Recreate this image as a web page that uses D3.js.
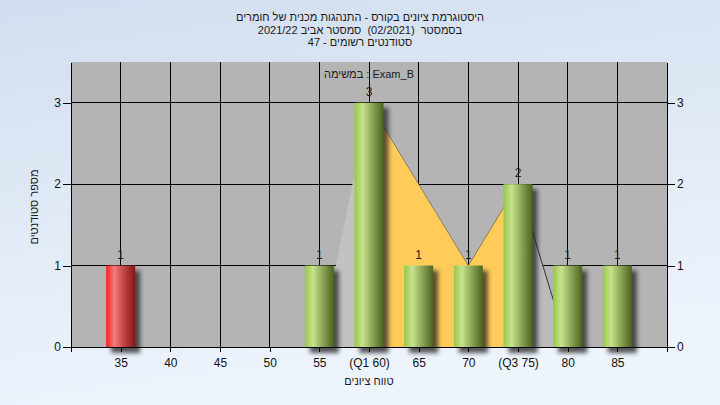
<!DOCTYPE html>
<html><head><meta charset="utf-8">
<script src="https://cdn.jsdelivr.net/npm/d3@7"></script>
<style>
html,body{margin:0;padding:0;}
svg{display:block;font-family:"Liberation Sans",Arial,sans-serif;}
.pre{white-space:pre;}
</style></head>
<body>
<svg id="chart" width="720" height="405"></svg>
<script>
// ---- data ----
const categories = [35, 40, 45, 50, 55, 60, 65, 70, 75, 80, 85];
const tickLabels = ["35", "40", "45", "50", "55", "(Q1 60)", "65", "70", "(Q3 75)", "80", "85"];
const counts = [1, 0, 0, 0, 1, 3, 1, 1, 2, 1, 1];
const barColors = ["red", "green", "green", "green", "green", "green", "green", "green", "green", "green", "green"];
const yTicks = [0, 1, 2, 3];
// frequency polygon drawn behind the bars
const polyX = [55, 60, 65, 70, 75, 80];
const polyY = [0, 3, 2, 1, 2, 0];
const q1 = 60, q3 = 75;
const titleLines = ["היסטוגרמת ציונים בקורס - התנהגות מכנית של חומרים", "בסמסטר  (02/2021)  סמסטר אביב 2021/22", "סטודנטים רשומים - 47"];
const examLabel = "במשימה : Exam_B";
const xTitle = "טווח ציונים";
const yTitle = "מספר סטודנטים";

const svg = d3.select("#chart");
const W = 720, H = 405;
const M = {left: 71, right: 667, top: 62, bottom: 347};
const hebSize = 11;

const defs = svg.append("defs");
const bgGrad = defs.append("linearGradient").attr("id", "bg").attr("x1", 0).attr("y1", 0).attr("x2", 0.25).attr("y2", 1);
bgGrad.append("stop").attr("offset", "0%").attr("stop-color", "#d2deef");
bgGrad.append("stop").attr("offset", "100%").attr("stop-color", "#eef4fc");

const gradDefs = {
  green: [["0%", "#98c84a"], ["28%", "#c8e28e"], ["60%", "#8fa858"], ["100%", "#4a6420"]],
  red: [["0%", "#ff1c1c"], ["28%", "#f27c7c"], ["60%", "#c24646"], ["100%", "#881414"]]
};
Object.entries(gradDefs).forEach(([k, stops]) => {
  const g = defs.append("linearGradient").attr("id", "g-" + k).attr("x1", 0).attr("y1", 0).attr("x2", 1).attr("y2", 0);
  stops.forEach(s => g.append("stop").attr("offset", s[0]).attr("stop-color", s[1]));
});
const f = defs.append("filter").attr("id", "shadow").attr("x", "-50%").attr("y", "-50%").attr("width", "200%").attr("height", "200%");
f.append("feGaussianBlur").attr("stdDeviation", 2.2);

svg.append("rect").attr("width", W).attr("height", H).attr("fill", "url(#bg)");

const x = d3.scaleLinear().domain([30, 90]).range([M.left, M.right]);
const y = d3.scaleLinear().domain([0, 3.5]).range([M.bottom, M.top]);

// plot background
svg.append("rect").attr("x", M.left).attr("y", M.top).attr("width", M.right - M.left).attr("height", M.bottom - M.top).attr("fill", "#b4b4b4");

// gridlines
svg.append("g").selectAll("line").data(yTicks.filter(d => d > 0)).join("line")
  .attr("x1", M.left).attr("x2", M.right).attr("y1", d => y(d)).attr("y2", d => y(d))
  .attr("stroke", "#000").attr("stroke-width", 1).attr("shape-rendering", "crispEdges");
svg.append("g").selectAll("line").data(categories).join("line")
  .attr("x1", d => x(d)).attr("x2", d => x(d)).attr("y1", M.top).attr("y2", M.bottom)
  .attr("stroke", "#000").attr("stroke-width", 1).attr("shape-rendering", "crispEdges");

// polygon segments
const poly = polyX.map((v, i) => ({x: v, y: polyY[i]}));
const area = d3.area().x(d => x(d.x)).y0(y(0)).y1(d => y(d.y));
const line = d3.line().x(d => x(d.x)).y(d => y(d.y));
const segLow = poly.filter(d => d.x <= q1);
const segMid = poly.filter(d => d.x >= q1 && d.x <= q3);
const segHigh = poly.filter(d => d.x >= q3);
svg.append("path").datum(segLow).attr("d", area).attr("fill", "#c2c2c2");
svg.append("path").datum(segHigh).attr("fill", "#bbbbbb").attr("d", area);
svg.append("path").datum(segMid).attr("d", area).attr("fill", "#ffcc5a");
svg.append("path").datum(segMid).attr("d", line).attr("fill", "none").attr("stroke", "#7a6a50").attr("stroke-width", 0.8);
svg.append("path").datum(segHigh).attr("d", line).attr("fill", "none").attr("stroke", "#333").attr("stroke-width", 1);

// bars
const bw = 29;
const bars = categories.map((c, i) => ({c, v: counts[i], col: barColors[i]})).filter(d => d.v > 0);
svg.append("g").selectAll("rect").data(bars).join("rect")
  .attr("x", d => x(d.c) - bw / 2 + 5).attr("y", d => y(d.v) + 5)
  .attr("width", bw).attr("height", d => y(0) - y(d.v) + 1)
  .attr("fill", "#222").attr("opacity", 0.75).attr("filter", "url(#shadow)");
svg.append("g").selectAll("rect").data(bars).join("rect")
  .attr("x", d => x(d.c) - bw / 2).attr("y", d => y(d.v))
  .attr("width", bw).attr("height", d => y(0) - y(d.v))
  .attr("fill", d => "url(#g-" + d.col + ")");
svg.append("g").selectAll("text").data(bars).join("text")
  .attr("x", d => x(d.c)).attr("y", d => y(d.v) - 7)
  .attr("text-anchor", "middle").attr("font-size", 12).attr("fill", "#222")
  .text(d => d.v);

// axes
const xAxis = d3.axisBottom(x).tickValues([30].concat(categories, [90]))
  .tickFormat(d => { const i = categories.indexOf(d); return i < 0 ? "" : tickLabels[i]; })
  .tickSize(5).tickPadding(6).tickSizeOuter(0);
const gx = svg.append("g").attr("transform", `translate(0,${M.bottom})`).call(xAxis);
gx.selectAll("text").attr("font-size", 12).attr("fill", "#111").attr("font-family", "Liberation Sans, Arial, sans-serif");

const yAxisL = d3.axisLeft(y).tickValues(yTicks).tickFormat(d3.format("d")).tickSize(8).tickPadding(2).tickSizeOuter(0);
const gyl = svg.append("g").attr("transform", `translate(${M.left},0)`).call(yAxisL);
const yAxisR = d3.axisRight(y).tickValues(yTicks).tickFormat(d3.format("d")).tickSize(8).tickPadding(2).tickSizeOuter(0);
const gyr = svg.append("g").attr("transform", `translate(${M.right},0)`).call(yAxisR);
[gyl, gyr].forEach(g => g.selectAll("text").attr("font-size", 12).attr("fill", "#111").attr("font-family", "Liberation Sans, Arial, sans-serif"));
[gx, gyl, gyr].forEach(g => g.selectAll("line,path").attr("stroke", "#000").attr("shape-rendering", "crispEdges"));

// titles
svg.append("g").selectAll("text").data(titleLines).join("text")
  .attr("class", "pre")
  .attr("x", 360).attr("y", (d, i) => 21 + i * 12.5)
  .attr("text-anchor", "middle").attr("font-size", hebSize).attr("fill", "#1a1a1a")
  .text(d => d);
svg.append("text").attr("x", (M.left + M.right) / 2).attr("y", 78).attr("text-anchor", "middle")
  .attr("font-size", hebSize).attr("fill", "#1a1a1a").text(examLabel);
svg.append("text").attr("x", (M.left + M.right) / 2).attr("y", 385).attr("text-anchor", "middle")
  .attr("font-size", hebSize).attr("fill", "#1a1a1a").text(xTitle);
svg.append("text").attr("transform", "translate(38,207) rotate(-90)").attr("text-anchor", "middle")
  .attr("font-size", hebSize).attr("fill", "#1a1a1a").text(yTitle);
</script>
</body></html>
